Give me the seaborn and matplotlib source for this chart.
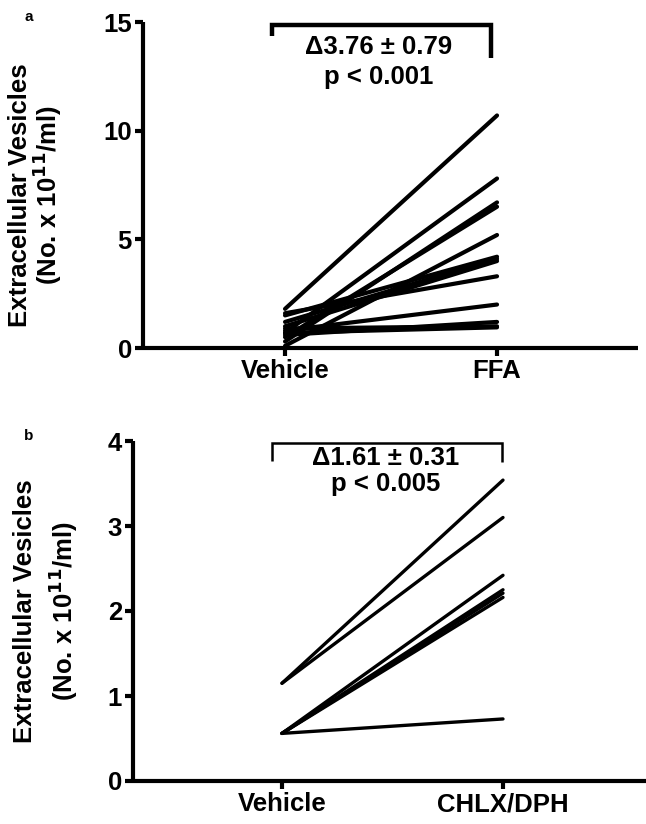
import matplotlib
matplotlib.use("Agg")
import matplotlib.pyplot as plt
import seaborn as sns
import pandas as pd

sns.set_style("white")
plt.rcParams['font.family'] = ['Liberation Sans', 'DejaVu Sans']
plt.rcParams['font.weight'] = 'bold'
plt.rcParams['text.color'] = 'black'
plt.rcParams['axes.labelcolor'] = 'black'
plt.rcParams['xtick.color'] = 'black'
plt.rcParams['ytick.color'] = 'black'
plt.rcParams['mathtext.default'] = 'bf'

# Panel a data
cond_a = ["Vehicle", "FFA"]
vehicle_a = [1.8, 0.7, 0.3, 0.5, 0.1, 1.5, 1.2, 1.0, 1.6, 0.8, 0.6, 0.7, 0.9]
ffa_a = [10.7, 7.8, 6.7, 6.5, 5.2, 4.2, 4.1, 4.0, 3.3, 2.0, 1.2, 0.95, 1.0]
yticks_a = [0, 5, 10, 15]

# Panel b data
cond_b = ["Vehicle", "CHLX/DPH"]
vehicle_b = [1.15, 1.15, 0.56, 0.56, 0.56, 0.56, 0.56]
chlx_b = [3.54, 3.10, 2.42, 2.25, 2.21, 2.16, 0.73]
yticks_b = [0, 1, 2, 3, 4]


def make_df(conds, v0, v1):
    rows = []
    for i, (a, b) in enumerate(zip(v0, v1)):
        rows.append({"subject": i, "cond": conds[0], "val": a})
        rows.append({"subject": i, "cond": conds[1], "val": b})
    return pd.DataFrame(rows)


fig = plt.figure(figsize=(6.46, 8.24), dpi=100)
W, H = 646, 824
TICK_FS = 18.5
ANN_FS = 18.5
YL_FS = 18.5


def add_axes(left, top, right, bottom):
    return fig.add_axes([left / W, (H - bottom) / H, (right - left) / W, (bottom - top) / H])


def style_axes(ax, yticks, ylim, xlim, conds, spine_lw):
    ax.set_ylim(*ylim)
    ax.set_xlim(*xlim)
    ax.set_yticks(yticks)
    ax.set_xticks([0, 1])
    ax.set_xticklabels(conds)
    for s in ["top", "right"]:
        ax.spines[s].set_visible(False)
    for s in ["left", "bottom"]:
        ax.spines[s].set_linewidth(spine_lw)
        ax.spines[s].set_color("black")
        ax.spines[s].set_capstyle("butt")
    ax.tick_params(axis="both", direction="out", length=6, width=spine_lw, color="black",
                   labelsize=TICK_FS, pad=2, bottom=True, left=True, labelcolor="black")
    for lab in ax.get_xticklabels() + ax.get_yticklabels():
        lab.set_fontweight("bold")
    ax.set_xlabel("")
    ax.set_ylabel("")


# Panel a
ax1 = add_axes(143, 22, 638, 348)
df_a = make_df(cond_a, vehicle_a, ffa_a)
sns.lineplot(data=df_a, x="cond", y="val", units="subject", estimator=None,
             color="black", linewidth=3.0, ax=ax1, legend=False, sort=False)
for l in ax1.lines:
    l.set_solid_capstyle("round")
    l.set_clip_on(False)
style_axes(ax1, yticks_a, (0, 15), (-0.67, 1.665), cond_a, 3.0)
ax1.plot([-0.06, -0.06, 0.97, 0.97], [14.35, 14.85, 14.85, 13.35], color="black", lw=3.2,
         solid_capstyle="butt", solid_joinstyle="miter", clip_on=False)
ax1.text(0.44, 13.85, "Δ3.76 ± 0.79", ha="center", va="center", fontsize=ANN_FS, fontweight="bold")
ax1.text(0.44, 12.45, "p < 0.001", ha="center", va="center", fontsize=ANN_FS, fontweight="bold")
fig.text(20 / W, 1 - 195 / H, "Extracellular Vesicles", rotation=90, ha="center", va="center",
         fontsize=YL_FS, fontweight="bold")
fig.text(47 / W, 1 - 195 / H, "(No. x 10$^{11}$/ml)", rotation=90, ha="center", va="center",
         fontsize=YL_FS, fontweight="bold")
fig.text(29 / W, 1 - 17 / H, "a", ha="center", va="center", fontsize=11, fontweight="bold")

# Panel b
ax2 = add_axes(133, 441, 646, 781)
df_b = make_df(cond_b, vehicle_b, chlx_b)
sns.lineplot(data=df_b, x="cond", y="val", units="subject", estimator=None,
             color="black", linewidth=2.4, ax=ax2, legend=False, sort=False)
for l in ax2.lines:
    l.set_solid_capstyle("round")
    l.set_clip_on(False)
style_axes(ax2, yticks_b, (0, 4), (-0.674, 1.647), cond_b, 3.0)
ax2.plot([-0.045, -0.045, 0.995, 0.995], [3.77, 3.98, 3.98, 3.75], color="black", lw=1.8,
         solid_capstyle="butt", solid_joinstyle="miter", clip_on=False)
ax2.text(0.47, 3.8, "Δ1.61 ± 0.31", ha="center", va="center", fontsize=ANN_FS, fontweight="bold")
ax2.text(0.47, 3.5, "p < 0.005", ha="center", va="center", fontsize=ANN_FS, fontweight="bold")
fig.text(25 / W, 1 - 611 / H, "Extracellular Vesicles", rotation=90, ha="center", va="center",
         fontsize=YL_FS, fontweight="bold")
fig.text(63 / W, 1 - 611 / H, "(No. x 10$^{11}$/ml)", rotation=90, ha="center", va="center",
         fontsize=YL_FS, fontweight="bold")
fig.text(29 / W, 1 - 436 / H, "b", ha="center", va="center", fontsize=11, fontweight="bold")

fig.savefig("out.png", dpi=100)
